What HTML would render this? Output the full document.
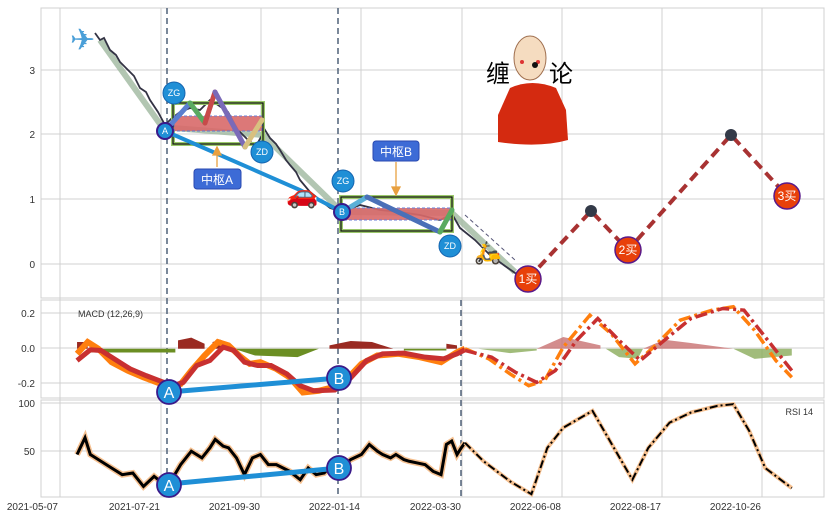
<!DOCTYPE html>
<html><head><meta charset="utf-8"><style>
html,body{margin:0;padding:0;background:#fff;}
svg{display:block;font-family:"Liberation Sans","Noto Sans CJK SC",sans-serif;}
</style></head><body>
<svg width="829" height="520" viewBox="0 0 829 520" xmlns="http://www.w3.org/2000/svg">
<rect width="829" height="520" fill="#fff"/>
<g fill="none" stroke="#d0d0d0" stroke-width="1">
<rect x="41" y="8" width="783" height="290"/>
<rect x="41" y="300" width="783" height="98"/>
<rect x="41" y="400" width="783" height="97"/>
<g>
<line x1="60" y1="8" x2="60" y2="497"/><line x1="161" y1="8" x2="161" y2="497"/>
<line x1="261" y1="8" x2="261" y2="497"/><line x1="361" y1="8" x2="361" y2="497"/>
<line x1="462" y1="8" x2="462" y2="497"/><line x1="562" y1="8" x2="562" y2="497"/>
<line x1="662" y1="8" x2="662" y2="497"/><line x1="762" y1="8" x2="762" y2="497"/>
<line x1="41" y1="70" x2="824" y2="70"/><line x1="41" y1="134" x2="824" y2="134"/>
<line x1="41" y1="199" x2="824" y2="199"/><line x1="41" y1="264" x2="824" y2="264"/>
<line x1="41" y1="313" x2="824" y2="313"/><line x1="41" y1="348" x2="824" y2="348"/>
<line x1="41" y1="383" x2="824" y2="383"/>
<line x1="41" y1="403" x2="824" y2="403"/><line x1="41" y1="451" x2="824" y2="451"/>
</g></g>
<g font-size="10" fill="#333" text-anchor="end">
<text x="35" y="74">3</text><text x="35" y="138">2</text><text x="35" y="203">1</text><text x="35" y="268">0</text>
<text x="35" y="317">0.2</text><text x="35" y="352">0.0</text><text x="35" y="387">-0.2</text>
<text x="35" y="407">100</text><text x="35" y="455">50</text>
<text x="58" y="510">2021-05-07</text><text x="160" y="510">2021-07-21</text><text x="260" y="510">2021-09-30</text>
<text x="360" y="510">2022-01-14</text><text x="461" y="510">2022-03-30</text><text x="561" y="510">2022-06-08</text>
<text x="661" y="510">2022-08-17</text><text x="761" y="510">2022-10-26</text>
</g>
<text x="78" y="317" font-size="9" fill="#333">MACD (12,26,9)</text>
<text x="813" y="415" font-size="9" fill="#333" text-anchor="end">RSI 14</text>
<g stroke="#5a6a80" stroke-width="1.6" stroke-dasharray="6,4">
<line x1="167" y1="8" x2="167" y2="497"/><line x1="338" y1="8" x2="338" y2="497"/><line x1="461" y1="300" x2="461" y2="497"/>
</g>
<polyline points="100,40 165,131 173,128 263,135 342,212 452,213 515,272" fill="none" stroke="#9fb89f" stroke-width="6" opacity="0.8"/>
<polyline points="95,33 100,40 104,38 110,50 116,55 120,62 128,70 134,76 140,88 146,92 150,100 158,112 165,125 172,118 180,112 190,108 200,110 210,100 218,105 228,112 238,130 248,140 256,146 265,130 270,138 276,144 280,150 286,160 290,165 296,172 300,180 310,192 320,200 330,208 342,212 360,205 380,210 400,212 420,215 440,220 452,214 460,228 475,240 490,255 505,266 518,275" fill="none" stroke="#334" stroke-width="1.8"/>
<line x1="465" y1="215" x2="515" y2="260" stroke="#557" stroke-width="1" stroke-dasharray="4,3"/>
<rect x="173" y="103" width="90" height="41" fill="none" stroke="#9bc96a" stroke-width="4"/>
<rect x="173" y="103" width="90" height="41" fill="none" stroke="#111" stroke-width="1.2"/>
<rect x="174" y="116" width="88" height="15" fill="#d96a6a" opacity="0.9" stroke="#5a6fd0" stroke-dasharray="3,2"/>
<rect x="341" y="197" width="111" height="34" fill="none" stroke="#9bc96a" stroke-width="4"/>
<rect x="341" y="197" width="111" height="34" fill="none" stroke="#111" stroke-width="1.2"/>
<rect x="342" y="208" width="109" height="12" fill="#d96a6a" opacity="0.9" stroke="#5a6fd0" stroke-dasharray="3,2"/>
<polyline points="165,131 300,190 342,212" fill="none" stroke="#1f8fd6" stroke-width="4"/>
<g fill="none" stroke-width="5" stroke-linecap="round">
<line x1="165" y1="131" x2="190" y2="103" stroke="#5a7fd0"/>
<line x1="190" y1="103" x2="205" y2="123" stroke="#5aaa60"/>
<line x1="205" y1="123" x2="215" y2="92" stroke="#c84a4a"/>
<line x1="215" y1="92" x2="245" y2="147" stroke="#7a6ab8"/>
<line x1="245" y1="147" x2="262" y2="120" stroke="#d8c080"/>
<line x1="342" y1="212" x2="367" y2="197" stroke="#5ab0d8"/>
<line x1="367" y1="197" x2="440" y2="232" stroke="#4a70b8"/>
<line x1="440" y1="232" x2="452" y2="210" stroke="#5aaa60"/>
</g>
<g stroke="#e8a040" stroke-width="1.3" fill="#e8a040">
<line x1="217" y1="167" x2="217" y2="152"/><polygon points="213,155 221,155 217,147"/>
<line x1="396" y1="162" x2="396" y2="190"/><polygon points="392,187 400,187 396,195"/>
</g>
<g font-size="12" fill="#fff" text-anchor="middle">
<rect x="194" y="169" width="47" height="20" rx="3" fill="#3d6bd6" stroke="#2a4ab0"/><text x="217" y="184">中枢A</text>
<rect x="373" y="141" width="46" height="20" rx="3" fill="#3d6bd6" stroke="#2a4ab0"/><text x="396" y="156">中枢B</text>
</g>
<g font-size="9" fill="#fff" text-anchor="middle" stroke="#1565b0">
<circle cx="174" cy="93" r="11" fill="#1f8fd6"/><circle cx="262" cy="152" r="11" fill="#1f8fd6"/>
<circle cx="343" cy="181" r="11" fill="#1f8fd6"/><circle cx="450" cy="246" r="11" fill="#1f8fd6"/>
<circle cx="165" cy="131" r="8" fill="#1f8fd6" stroke="#3a1a8a" stroke-width="2"/>
<circle cx="342" cy="212" r="8" fill="#1f8fd6" stroke="#3a1a8a" stroke-width="2"/>
</g>
<g font-size="9" fill="#fff" text-anchor="middle">
<text x="174" y="96">ZG</text><text x="262" y="155">ZD</text><text x="343" y="184">ZG</text><text x="450" y="249">ZD</text>
<text x="165" y="134">A</text><text x="342" y="215">B</text>
</g>
<text x="70" y="50" font-size="30" fill="#4a9fd8">✈</text>
<text x="286" y="203" font-size="26">🚗</text>
<text x="474" y="260" font-size="22">🛵</text>
<polyline points="528,279 591,211 628,250 731,135 787,196" fill="none" stroke="#a83232" stroke-width="4" stroke-dasharray="10,6"/>
<circle cx="591" cy="211" r="6" fill="#333a48"/><circle cx="731" cy="135" r="6" fill="#333a48"/>
<g stroke="#5a1a8a" stroke-width="1.5" fill="#e8400a">
<circle cx="528" cy="279" r="13"/><circle cx="628" cy="250" r="13"/><circle cx="787" cy="196" r="13"/>
</g>
<g font-size="12" fill="#fff" text-anchor="middle">
<text x="528" y="283">1买</text><text x="628" y="254">2买</text><text x="787" y="200">3买</text>
</g>
<!-- monk dog -->
<path d="M510,88 Q532,78 556,88 L566,110 L568,140 Q540,148 498,142 L498,115 Z" fill="#d42a10"/>
<ellipse cx="530" cy="58" rx="16" ry="22" fill="#f5dcc0" stroke="#a07050"/>
<circle cx="522" cy="62" r="2" fill="#d33"/><circle cx="538" cy="62" r="2" fill="#d33"/>
<circle cx="535" cy="65" r="3" fill="#111"/>
<text x="486" y="82" font-size="24" fill="#000">缠</text><text x="549" y="82" font-size="24" fill="#000">论</text>
<g transform="translate(0,290) scale(0.5314,0.3358)">
<path d="M145,175 V155 H165 V175 Z M335,175 V150 L360,142 L385,160 V175 Z M400,175 V155 L415,148 L430,160 V175 Z M620,175 V165 L660,152 L700,155 L740,175 Z M840,175 V160 L860,165 V175 Z" fill="#9a2a22"/>
<path d="M165,175 H330 V186 H165 Z M440,175 L480,195 L560,200 L600,175 Z M760,175 H840 V180 H760 Z" fill="#6b8e23"/>
<path d="M900,175 L960,188 L1010,180 V175 Z M1140,175 L1165,200 L1200,205 L1210,175 Z M1380,175 L1420,205 L1490,195 V175 Z" fill="#8aab5a" opacity="0.8"/>
<path d="M1010,175 L1060,140 L1130,165 V175 Z M1210,175 L1250,148 L1300,158 L1380,175 Z" fill="#c87070" opacity="0.8"/>
<polyline points="145,190 165,155 185,175 210,215 240,240 270,260 300,278 320,290 340,280 360,240 385,195 410,155 430,165 450,195 470,220 490,215 520,235 545,260 570,305 600,300 625,290 650,270 680,220 710,195 750,190 790,200 830,215 860,185 875,175" fill="none" stroke="#ff7f0e" stroke-width="6" vector-effect="non-scaling-stroke"/>
<polyline points="145,210 170,178 190,180 215,205 245,235 275,255 300,270 325,285 345,275 370,225 395,210 420,170 440,180 460,215 485,225 510,225 540,250 565,285 590,300 630,298 655,270 690,210 720,190 760,188 800,200 835,205 860,190 875,178" fill="none" stroke="#c83030" stroke-width="5" vector-effect="non-scaling-stroke"/>
<polyline points="875,175 920,205 960,250 995,285 1025,270 1060,170 1110,75 1150,130 1195,220 1230,170 1280,90 1340,60 1380,50 1420,120 1460,210 1490,260" fill="none" stroke="#ff7f0e" stroke-width="3.5" stroke-dasharray="12,4,3,4" vector-effect="non-scaling-stroke"/>
<polyline points="875,180 925,200 970,245 1010,275 1045,240 1085,150 1125,85 1165,150 1205,210 1250,150 1300,85 1360,55 1400,60 1440,140 1490,240" fill="none" stroke="#c83030" stroke-width="3.5" stroke-dasharray="12,4,3,4" vector-effect="non-scaling-stroke"/>
<polyline points="145,490 160,440 170,490 190,510 210,530 230,550 250,545 270,585 290,555 310,580 325,560 340,520 360,480 380,500 395,470 405,445 420,465 430,470 445,500 460,550 475,500 490,490 505,520 520,520 545,540 565,565 580,530 595,550 610,545 625,520 640,530 660,505 680,490 695,460 710,480 720,490 735,500 745,490 760,505 770,510 785,515 800,520 815,540 830,550 840,460 850,450 860,490 868,470 875,455" fill="none" stroke="#f5c090" stroke-width="6" vector-effect="non-scaling-stroke"/>
<polyline points="145,490 160,440 170,490 190,510 210,530 230,550 250,545 270,585 290,555 310,580 325,560 340,520 360,480 380,500 395,470 405,445 420,465 430,470 445,500 460,550 475,500 490,490 505,520 520,520 545,540 565,565 580,530 595,550 610,545 625,520 640,530 660,505 680,490 695,460 710,480 720,490 735,500 745,490 760,505 770,510 785,515 800,520 815,540 830,550 840,460 850,450 860,490 868,470 875,455" fill="none" stroke="#000" stroke-width="3" vector-effect="non-scaling-stroke"/>
<polyline points="875,455 910,510 960,570 1000,608 1030,470 1060,410 1115,360 1190,565 1220,470 1260,395 1300,365 1350,345 1380,340 1410,420 1440,530 1490,590" fill="none" stroke="#f5c090" stroke-width="4" vector-effect="non-scaling-stroke"/>
<polyline points="875,455 910,510 960,570 1000,608 1030,470 1060,410 1115,360 1190,565 1220,470 1260,395 1300,365 1350,345 1380,340 1410,420 1440,530 1490,590" fill="none" stroke="#000" stroke-width="2" stroke-dasharray="8,3,2,3" vector-effect="non-scaling-stroke"/>
</g>
<line x1="169" y1="392" x2="339" y2="378" stroke="#1f8fd6" stroke-width="5"/>
<line x1="169" y1="484" x2="339" y2="468" stroke="#1f8fd6" stroke-width="5"/>
<g stroke="#3a1a8a" stroke-width="1.8" fill="#1f8fd6">
<circle cx="169" cy="392" r="12"/><circle cx="339" cy="378" r="12"/>
<circle cx="169" cy="485" r="12"/><circle cx="339" cy="468" r="12"/>
</g>
<g font-size="16" fill="#fff" text-anchor="middle">
<text x="169" y="398">A</text><text x="339" y="384">B</text><text x="169" y="491">A</text><text x="339" y="474">B</text>
</g>
</svg>
</body></html>
